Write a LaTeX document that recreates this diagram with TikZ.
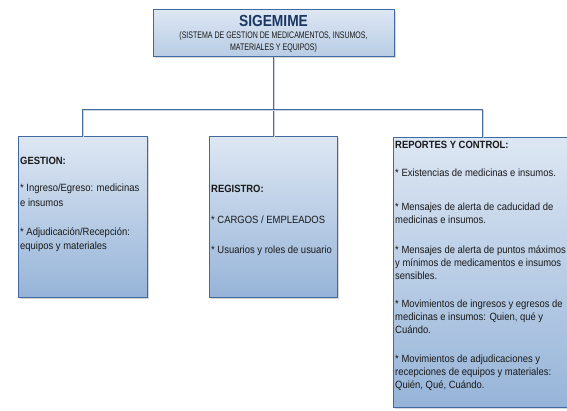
\documentclass[tikz,border=0pt]{standalone}
\usepackage{fontspec}
\setmainfont{Liberation Sans}
\newfontfamily\condfont[FakeStretch=0.9]{Liberation Sans}
\newfontfamily\narrowfont[FakeStretch=0.74]{Liberation Sans}
\newfontfamily\titlefont[FakeStretch=0.86]{Liberation Sans}
\usetikzlibrary{shadows}
\definecolor{boxtop}{RGB}{221,231,243}
\definecolor{boxbot}{RGB}{150,180,216}
\definecolor{hdrbot}{RGB}{184,204,228}
\definecolor{edge}{RGB}{72,108,158}
\definecolor{border}{RGB}{66,106,160}
\definecolor{navy}{RGB}{28,54,100}
\definecolor{txt}{RGB}{25,25,25}
\newcommand{\bodypar}[1]{\parbox[t]{200pt}{\raggedright #1}}
\begin{document}
\begin{tikzpicture}[x=1pt,y=-1pt,
  box/.style={draw=border, line width=0.8pt, top color=boxtop, bottom color=boxbot,
    inner sep=0pt, anchor=north west,
    drop shadow={shadow xshift=1.3pt, shadow yshift=-1.3pt, fill=black!35, opacity=0.45}},
  hdrbox/.style={box, bottom color=hdrbot},
  conn/.style={draw=edge, line width=0.9pt,
    preaction={draw=edge!30, line width=0.9pt, transform canvas={xshift=1pt, yshift=-1pt}}},
  body/.style={font=\condfont\fontsize{10.5}{13}\selectfont, text=txt, inner sep=0pt, anchor=base west},
]
\useasboundingbox (0,0) rectangle (567,410);
% boxes
\node[hdrbox, minimum width=241pt, minimum height=47pt] (top) at (153,9) {};
\node[box, minimum width=129pt, minimum height=161pt] (gest) at (18,136) {};
\node[box, minimum width=128pt, minimum height=161pt] (reg) at (209,136) {};
\node[box, minimum width=178pt, minimum height=270pt] (rep) at (393,137) {};
% connectors
\coordinate (bus) at (273,109);
\draw[conn] (top.south) -- (top.south |- reg.north);
\draw[conn] (gest.north) -- (gest.north |- bus) -- (rep.north |- bus) -- (rep.north);
% header text
\node[font=\titlefont\fontsize{16}{18}\selectfont\bfseries, text=navy, inner sep=0pt] (title) at (273.5,20.5) {SIGEMIME};
\node[font=\narrowfont\fontsize{9.5}{12}\selectfont, text=txt, align=center, inner sep=0pt] (subtitle) at (273.5,42)
  {(SISTEMA DE GESTION DE MEDICAMENTOS, INSUMOS,\\MATERIALES Y EQUIPOS)};
% body texts
\node[body] (gtext) at (20,164.5) {\fontsize{10.5}{14.5}\selectfont\bodypar{\textbf{GESTION:}\\[12.5pt]
* Ingreso/Egreso: medicinas\\ e insumos\\[14.5pt]
* Adjudicación/Recepción:\\ equipos y materiales}};
\node[body] (rtext) at (211,192.5) {\bodypar{\textbf{REGISTRO:}\\[18pt]
* CARGOS / EMPLEADOS\\[16.5pt]
* Usuarios y roles de usuario}};
\node[body] (ptext) at (395,148) {\bodypar{\textbf{REPORTES Y CONTROL:}\\[15pt]
* Existencias de medicinas e insumos.\\[21pt]
* Mensajes de alerta de caducidad de\\ medicinas e insumos.\\[17pt]
* Mensajes de alerta de puntos máximos\\ y mínimos de medicamentos e insumos\\ sensibles.\\[15pt]
* Movimientos de ingresos y egresos de\\ medicinas e insumos: Quien, qué y\\ Cuándo.\\[16pt]
* Movimientos de adjudicaciones y\\ recepciones de equipos y materiales:\\ Quién, Qué, Cuándo.}};
\end{tikzpicture}
\end{document}
